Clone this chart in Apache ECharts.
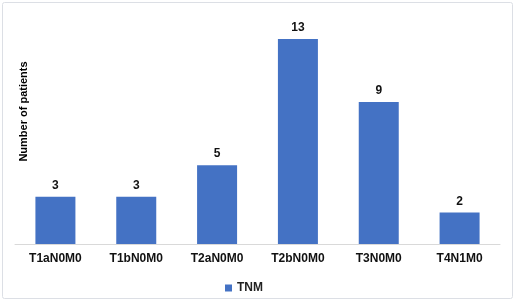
<!DOCTYPE html>
<html>
<head>
<meta charset="utf-8">
<script src="https://cdn.jsdelivr.net/npm/echarts@6/dist/echarts.min.js"></script>
<style>
  html, body { margin: 0; padding: 0; background: #fff; }
  #chart { width: 516px; height: 303px; }
</style>
</head>
<body>
<div id="chart"></div>
<script>
const categories = ['T1aN0M0', 'T1bN0M0', 'T2aN0M0', 'T2bN0M0', 'T3N0M0', 'T4N1M0']
const patients = [3, 3, 5, 13, 9, 2]
const seriesName = 'TNM'
const yTitle = 'Number of patients'

const font = "'Liberation Sans', Arial, sans-serif"
const chart = echarts.init(document.getElementById('chart'))

chart.setOption({
  animation: false,
  backgroundColor: '#fff',
  graphic: [
    {
      type: 'rect',
      shape: { x: 2.5, y: 2.5, width: 510, height: 296, r: 2 },
      style: { fill: 'none', stroke: '#dcdfe5', lineWidth: 1 },
      z: -1,
    },
  ],
  legend: {
    data: [seriesName],
    left: 220,
    top: 277,
    icon: 'rect',
    itemWidth: 7,
    itemHeight: 7,
    itemGap: 10,
    textStyle: { fontFamily: font, fontWeight: 'bold', fontSize: 12, color: '#222' },
  },
  grid: {
    left: 15,
    right: 16,
    top: 39,
    bottom: 59,
    containLabel: false,
  },
  xAxis: {
    type: 'category',
    data: categories,
    axisLine: { lineStyle: { color: '#d9d9d9', width: 1 } },
    axisTick: { show: false },
    axisLabel: {
      margin: 9,
      color: '#111',
      fontFamily: font,
      fontWeight: 'bold',
      fontSize: 12,
    },
  },
  yAxis: {
    type: 'value',
    min: 0,
    max: 13,
    name: yTitle,
    nameLocation: 'middle',
    nameGap: -14,
    nameRotate: 90,
    nameTextStyle: {
      fontFamily: font,
      fontWeight: 'bold',
      fontSize: 11,
      color: '#000',
      padding: [0, 0, 0, 60],
    },
    axisLine: { show: false },
    axisTick: { show: false },
    axisLabel: { show: false },
    splitLine: { show: false },
  },
  series: [
    {
      name: seriesName,
      type: 'bar',
      data: patients,
      barWidth: 40,
      itemStyle: { color: '#4472c4' },
      label: {
        show: true,
        position: 'top',
        distance: 5,
        color: '#111',
        fontFamily: font,
        fontWeight: 'bold',
        fontSize: 12,
      },
    },
  ],
})
</script>
</body>
</html>
